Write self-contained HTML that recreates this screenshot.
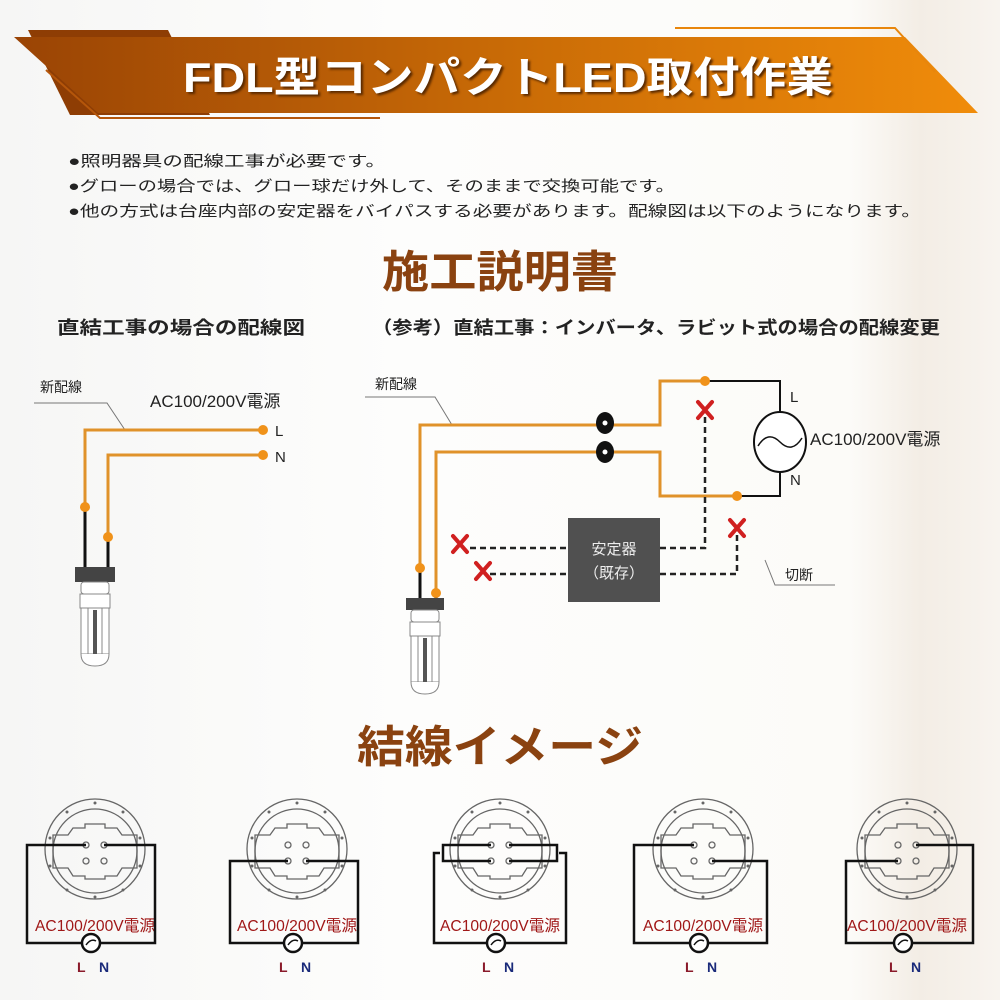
<!DOCTYPE html>
<html><head><meta charset="utf-8"><style>
html,body{margin:0;padding:0;background:#fff}
svg{display:block}
text{font-family:"Liberation Sans","Noto Sans CJK JP",sans-serif}
</style></head><body>
<svg width="1000" height="1000" viewBox="0 0 1000 1000" xmlns="http://www.w3.org/2000/svg">
<defs>
<linearGradient id="bg" x1="0" x2="1" y1="0" y2="0">
<stop offset="0" stop-color="#f6f6f5"/><stop offset="0.4" stop-color="#fdfdfc"/><stop offset="0.85" stop-color="#fcfbf8"/><stop offset="0.92" stop-color="#f3ede5"/><stop offset="1" stop-color="#f8f4ef"/>
</linearGradient>
<linearGradient id="ban" x1="0" x2="1" y1="0" y2="0">
<stop offset="0" stop-color="#9a4405"/><stop offset="0.5" stop-color="#c86a06"/><stop offset="1" stop-color="#f08c0a"/>
</linearGradient>
<g id="bulb" fill="#fff" stroke="#888" stroke-width="1">
<rect x="-14" y="0" width="28" height="12" rx="3"/>
<rect x="-15" y="12" width="30" height="14"/>
<rect x="-14" y="26" width="28" height="46"/>
<line x1="-7" y1="26" x2="-7" y2="72"/><line x1="7" y1="26" x2="7" y2="72"/>
<rect x="-2" y="28" width="4" height="44" fill="#555" stroke="none"/>
<path d="M-14 72 Q-14 84 0 84 Q14 84 14 72" />
</g>
<g id="lamp">
<g fill="none" stroke="#666" stroke-width="1.3">
<circle cx="0" cy="849" r="50"/>
<circle cx="0" cy="851" r="42"/>
<path d="M-42 835 L-27 835 L-22 828 L-10 828 L-10 824 L10 824 L10 828 L22 828 L27 835 L42 835 L42 868 L27 868 L22 876 L10 876 L10 879 L-10 879 L-10 876 L-22 876 L-27 868 L-42 868 Z"/>
<circle cx="-9" cy="845" r="3"/><circle cx="9" cy="845" r="3"/>
<circle cx="-9" cy="861" r="3"/><circle cx="9" cy="861" r="3"/>
</g>
<g fill="#666"><circle cx="0" cy="803" r="1.5"/><circle cx="-28" cy="812" r="1.5"/><circle cx="28" cy="812" r="1.5"/><circle cx="-45" cy="838" r="1.5"/><circle cx="45" cy="838" r="1.5"/><circle cx="-45" cy="866" r="1.5"/><circle cx="45" cy="866" r="1.5"/><circle cx="-28" cy="890" r="1.5"/><circle cx="28" cy="890" r="1.5"/><circle cx="0" cy="897" r="1.5"/></g>
<text x="0" y="931" text-anchor="middle" font-size="16" fill="#a01818" textLength="120" lengthAdjust="spacingAndGlyphs">AC100/200V電源</text>
<circle cx="-4" cy="943" r="9" fill="#fff" stroke="#111" stroke-width="2.5"/>
<path d="M-9 945 Q-4 938 1 941" fill="none" stroke="#111" stroke-width="1.5"/>
<text x="-18" y="972" font-size="14" font-weight="bold" fill="#8a1a2a">L</text>
<text x="4" y="972" font-size="14" font-weight="bold" fill="#1a2a7a">N</text>
</g>
</defs>
<rect width="1000" height="1000" fill="url(#bg)"/>

<!-- banner -->
<polygon points="28,30 168,30 210,115 70,115" fill="#8e3d04"/>
<polygon points="14,37 905,37 978,113 98,113" fill="url(#ban)"/>
<polyline points="46,70 100,118 380,118" fill="none" stroke="#b5560a" stroke-width="2"/>
<polyline points="675,28 895,28 935,72" fill="none" stroke="#e8860c" stroke-width="2"/>
<text x="508" y="92" text-anchor="middle" font-size="42" font-weight="bold" fill="#fff" textLength="650" lengthAdjust="spacingAndGlyphs" style="text-shadow:2px 2px 2px #5a2a00">FDL型コンパクトLED取付作業</text>

<!-- intro -->
<g font-size="15" fill="#222">
<text x="68" y="166" textLength="318" lengthAdjust="spacingAndGlyphs">●照明器具の配線工事が必要です。</text>
<text x="68" y="191" textLength="607" lengthAdjust="spacingAndGlyphs">●グローの場合では、グロー球だけ外して、そのままで交換可能です。</text>
<text x="68" y="216" textLength="853" lengthAdjust="spacingAndGlyphs">●他の方式は台座内部の安定器をバイパスする必要があります。配線図は以下のようになります。</text>
</g>
<text x="500" y="287" text-anchor="middle" font-size="44" font-weight="bold" fill="#8a4210" textLength="236" lengthAdjust="spacingAndGlyphs">施工説明書</text>
<g font-size="18" font-weight="bold" fill="#222">
<text x="57" y="334" textLength="248" lengthAdjust="spacingAndGlyphs">直結工事の場合の配線図</text>
<text x="372" y="334" textLength="568" lengthAdjust="spacingAndGlyphs">（参考）直結工事：インバータ、ラビット式の場合の配線変更</text>
</g>

<!-- left circuit -->
<g font-size="14" fill="#222">
<text x="40" y="392">新配線</text>
<text x="150" y="407" font-size="17">AC100/200V電源</text>
<text x="275" y="436" font-size="15">L</text>
<text x="275" y="462" font-size="15">N</text>
</g>
<polyline points="34,403 107,403 125,430" fill="none" stroke="#777" stroke-width="1"/>
<polyline points="85,505 85,430 263,430" fill="none" stroke="#e0922a" stroke-width="3"/>
<polyline points="108,535 108,455 263,455" fill="none" stroke="#e0922a" stroke-width="3"/>
<line x1="85" y1="507" x2="85" y2="568" stroke="#111" stroke-width="3"/>
<line x1="108" y1="537" x2="108" y2="568" stroke="#111" stroke-width="3"/>
<g fill="#f0921a"><circle cx="85" cy="507" r="5"/><circle cx="108" cy="537" r="5"/><circle cx="263" cy="430" r="5"/><circle cx="263" cy="455" r="5"/></g>
<rect x="75" y="567" width="40" height="15" fill="#444"/>
<use href="#bulb" x="95" y="582"/>

<!-- right circuit -->
<g font-size="14" fill="#222">
<text x="375" y="389">新配線</text>
<text x="790" y="402" font-size="15">L</text>
<text x="790" y="485" font-size="15">N</text>
<text x="810" y="445" font-size="17">AC100/200V電源</text>
<text x="785" y="580">切断</text>
</g>
<polyline points="365,397 435,397 452,425" fill="none" stroke="#777" stroke-width="1"/>
<polyline points="765,560 775,585 835,585" fill="none" stroke="#777" stroke-width="1"/>
<polyline points="420,568 420,425 660,425 660,381 705,381" fill="none" stroke="#e0922a" stroke-width="3"/>
<polyline points="436,593 436,452 660,452 660,496 737,496" fill="none" stroke="#e0922a" stroke-width="3"/>
<polyline points="705,381 780,381 780,420" fill="none" stroke="#111" stroke-width="2"/>
<polyline points="737,496 780,496 780,464" fill="none" stroke="#111" stroke-width="2"/>
<ellipse cx="780" cy="442" rx="26" ry="30" fill="#fff" stroke="#111" stroke-width="2"/>
<path d="M758 446 Q768 430 780 442 Q792 454 802 438" fill="none" stroke="#111" stroke-width="1.5"/>
<line x1="420" y1="568" x2="420" y2="600" stroke="#111" stroke-width="3"/>
<line x1="436" y1="593" x2="436" y2="600" stroke="#111" stroke-width="3"/>
<g fill="#f0921a"><circle cx="705" cy="381" r="5"/><circle cx="737" cy="496" r="5"/><circle cx="420" cy="568" r="5"/><circle cx="436" cy="593" r="5"/></g>
<g fill="#111"><ellipse cx="605" cy="423" rx="9" ry="11"/><ellipse cx="605" cy="452" rx="9" ry="11"/></g>
<g fill="#fff"><circle cx="605" cy="423" r="2.5"/><circle cx="605" cy="452" r="2.5"/></g>
<g fill="none" stroke="#222" stroke-width="2.5" stroke-dasharray="6,4">
<line x1="470" y1="548" x2="568" y2="548"/>
<line x1="490" y1="574" x2="568" y2="574"/>
<polyline points="660,548 705,548 705,415"/>
<polyline points="660,574 737,574 737,532"/>
</g>
<rect x="568" y="518" width="92" height="84" fill="#505050"/>
<text x="614" y="554" text-anchor="middle" font-size="15" fill="#eee">安定器</text>
<text x="614" y="578" text-anchor="middle" font-size="15" fill="#eee">（既存）</text>
<g stroke="#d02020" stroke-width="4" stroke-linecap="round">
<path d="M698 402 L712 418 M712 402 L698 418"/>
<path d="M730 520 L744 536 M744 520 L730 536"/>
<path d="M453 536 L467 552 M467 536 L453 552"/>
<path d="M476 563 L490 579 M490 563 L476 579"/>
</g>
<rect x="406" y="598" width="38" height="12" fill="#444"/>
<use href="#bulb" x="425" y="610"/>

<text x="500" y="762" text-anchor="middle" font-size="44" font-weight="bold" fill="#8a4210" textLength="286" lengthAdjust="spacingAndGlyphs">結線イメージ</text>

<!-- lamp diagrams -->
<use href="#lamp" x="95"/>
<use href="#lamp" x="297"/>
<use href="#lamp" x="500"/>
<use href="#lamp" x="703"/>
<use href="#lamp" x="907"/>
<g fill="none" stroke="#111" stroke-width="2.5">
<path d="M86 845 L27 845 L27 943 L82 943 M100 943 L155 943 L155 845 L104 845"/>
<path d="M288 861 L230 861 L230 943 L284 943 M302 943 L358 943 L358 861 L306 861"/>
<path d="M491 845 L443 845 L443 861 L491 861 M440 853 L434 853 L434 943 L487 943 M505 943 L566 943 L566 853 L559 853 M509 845 L557 845 L557 861 L509 861"/>
<path d="M694 845 L634 845 L634 943 L690 943 M708 943 L767 943 L767 861 L712 861"/>
<path d="M898 861 L846 861 L846 943 L894 943 M912 943 L973 943 L973 845 L916 845"/>
</g>
</svg>
</body></html>
